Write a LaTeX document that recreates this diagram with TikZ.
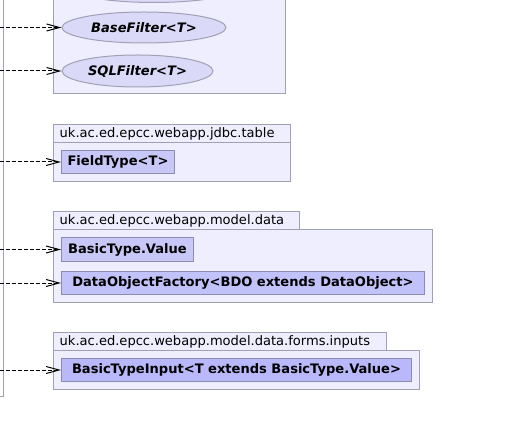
\documentclass[tikz,border=0pt]{standalone}
\usepackage{fontspec}
\setmainfont{DejaVu Sans}
\usetikzlibrary{arrows.meta,shapes.geometric}
\definecolor{pkgfill}{HTML}{EEEEFF}
\definecolor{pkgline}{HTML}{A0A0B4}
\definecolor{clsline}{HTML}{8C8CB0}
\definecolor{ellfill}{HTML}{DADAF8}
\definecolor{clsA}{HTML}{C8C8F8}
\definecolor{clsB}{HTML}{C2C2FA}
\definecolor{clsC}{HTML}{B8B8FA}
\tikzset{
  pkg/.style={fill=pkgfill,draw=pkgline,line width=1bp},
  pkglabel/.style={anchor=west,inner sep=0pt,font=\fontsize{13.1}{15}\selectfont},
  cls/.style={draw=clsline,line width=1bp,rectangle,inner sep=0pt,
    font=\fontsize{13.1}{15}\selectfont\bfseries},
  iface/.style={draw=pkgline,fill=ellfill,line width=1bp,ellipse,inner sep=0pt,
    font=\fontsize{13.1}{15}\selectfont\bfseries\itshape},
  dep/.style={draw=black,line width=1bp,dash pattern=on 4bp off 2bp,
    -{Straight Barb[length=13bp,width=7bp,line width=1bp]}},
}
\begin{document}
\begin{tikzpicture}[x=1bp,y=-1bp]
\useasboundingbox (0,0) rectangle (525,435);
% left package edge
\draw[draw=pkgline,line width=1bp] (-10,-10) rectangle (3.5,396.5);
% package 1
\draw[pkg] (53.5,-10) rectangle (285.5,93.5);
\node[iface,minimum width=170bp,minimum height=31bp] (top) at (154,-13) {};
\node[iface,minimum width=164bp,minimum height=31bp] (base) at (144,27.5) {BaseFilter<T>};
\node[iface,minimum width=151bp,minimum height=32bp] (sql) at (137.5,71) {SQLFilter<T>};
% package 2
\draw[pkg] (53.5,124.5) rectangle (290.5,142.5);
\draw[pkg] (53.5,142.5) rectangle (290.5,181.5);
\node[pkglabel] (p2) at (59.5,133.5) {uk.ac.ed.epcc.webapp.jdbc.table};
\node[cls,fill=clsA,minimum width=113bp,minimum height=23bp] (field) at (118,162) {FieldType<T>};
% package 3
\draw[pkg] (53.5,211.5) rectangle (299.5,229.5);
\draw[pkg] (53.5,229.5) rectangle (432.5,302.5);
\node[pkglabel] (p3) at (59.5,220.5) {uk.ac.ed.epcc.webapp.model.data};
\node[cls,fill=clsA,minimum width=132bp,minimum height=24bp] (value) at (127.5,249.5) {BasicType.Value};
\node[cls,fill=clsB,minimum width=363bp,minimum height=23bp] (factory) at (243,283) {DataObjectFactory<BDO extends DataObject>};
% package 4
\draw[pkg] (53.5,332.5) rectangle (386.5,350.5);
\draw[pkg] (53.5,350.5) rectangle (419.5,389.5);
\node[pkglabel] (p4) at (59.5,341.5) {uk.ac.ed.epcc.webapp.model.data.forms.inputs};
\node[cls,fill=clsC,minimum width=350bp,minimum height=23bp] (input) at (236.5,370) {BasicTypeInput<T extends BasicType.Value>};
% connectors
\coordinate (s1) at (0,27.5);
\coordinate (s2) at (0,71);
\coordinate (s3) at (0,162);
\coordinate (s4) at (0,249.5);
\coordinate (s5) at (0,283);
\coordinate (s6) at (0,370);
\draw[dep] (s1) -- (base.west);
\draw[dep] (s2) -- (sql.west);
\draw[dep] (s3) -- (field.west);
\draw[dep] (s4) -- (value.west);
\draw[dep] (s5) -- (factory.west);
\draw[dep] (s6) -- (input.west);
\end{tikzpicture}
\end{document}
